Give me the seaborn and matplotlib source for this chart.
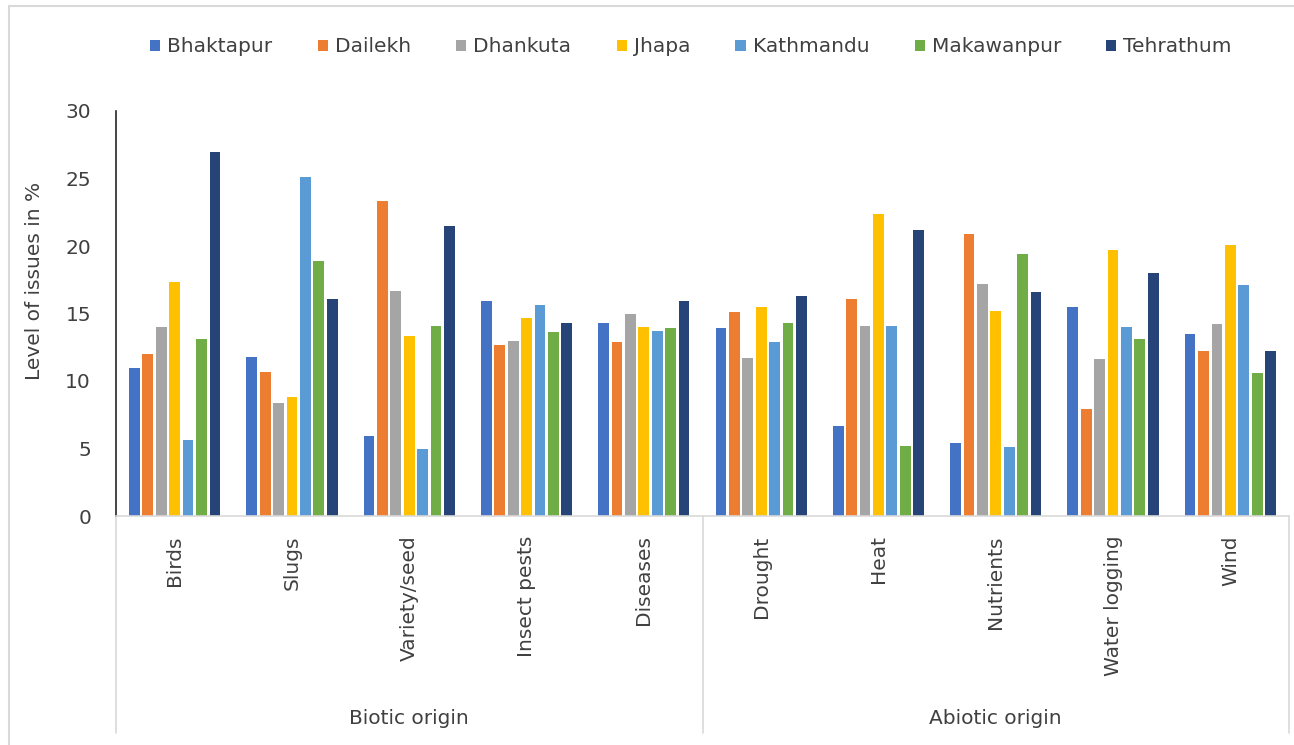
import matplotlib
matplotlib.use("Agg")
import matplotlib.pyplot as plt
import matplotlib.transforms as mtransforms
from matplotlib.lines import Line2D
import seaborn as sns
import pandas as pd

# Issues reported, grouped by origin
issues = ["Birds", "Slugs", "Variety/seed", "Insect pests", "Diseases",
          "Drought", "Heat", "Nutrients", "Water logging", "Wind"]
groups = ["Biotic origin", "Abiotic origin"]
group_sizes = [5, 5]

districts = ["Bhaktapur", "Dailekh", "Dhankuta", "Jhapa",
             "Kathmandu", "Makawanpur", "Tehrathum"]

# Level of issues in % per district, in the order of `issues`
bhaktapur = [11.0, 11.8, 5.9, 15.9, 14.3, 13.9, 6.7, 5.4, 15.5, 13.5]
dailekh = [12.0, 10.7, 23.3, 12.7, 12.9, 15.1, 16.1, 20.9, 7.9, 12.2]
dhankuta = [14.0, 8.4, 16.7, 13.0, 15.0, 11.7, 14.1, 17.2, 11.6, 14.2]
jhapa = [17.3, 8.8, 13.3, 14.7, 14.0, 15.5, 22.4, 15.2, 19.7, 20.1]
kathmandu = [5.6, 25.1, 5.0, 15.6, 13.7, 12.9, 14.1, 5.1, 14.0, 17.1]
makawanpur = [13.1, 18.9, 14.1, 13.6, 13.9, 14.3, 5.2, 19.4, 13.1, 10.6]
tehrathum = [27.0, 16.1, 21.5, 14.3, 15.9, 16.3, 21.2, 16.6, 18.0, 12.2]

series = [bhaktapur, dailekh, dhankuta, jhapa, kathmandu, makawanpur, tehrathum]
colors = ["#4472C4", "#ED7D31", "#A5A5A5", "#FFC000",
          "#5B9BD5", "#70AD47", "#264478"]

df = pd.DataFrame(
    [(iss, d, v) for d, vals in zip(districts, series) for iss, v in zip(issues, vals)],
    columns=["issue", "district", "value"],
)

sns.set_theme(style="white")
plt.rcParams["font.family"] = ["DejaVu Sans"]
text_color = "#404040"
grid_gray = "#D9D9D9"
W, H = 1294, 745

fig = plt.figure(figsize=(W / 100, H / 100), dpi=100)
ax = fig.add_axes([116 / W, 1 - 516 / H, (1289 - 116) / W, (516 - 111) / H])

sns.barplot(data=df, x="issue", y="value", hue="district",
            order=issues, hue_order=districts, palette=colors,
            width=0.8, gap=0.2, linewidth=0, saturation=1, ax=ax)

ax.set_xlim(-0.5, len(issues) - 0.5)
ax.set_ylim(0, 30)
ax.set_yticks(range(0, 31, 5))
ax.set_xlabel("")
ax.set_ylabel("")

for side in ["top", "right"]:
    ax.spines[side].set_visible(False)
ax.spines["left"].set_color("#262626")
ax.spines["left"].set_linewidth(1.2)
ax.spines["bottom"].set_color(grid_gray)
ax.spines["bottom"].set_linewidth(1.2)

ax.tick_params(axis="y", length=0, pad=18, labelsize=14.5, labelcolor=text_color)
ax.tick_params(axis="x", length=0, pad=14, labelsize=14.5, labelcolor=text_color,
               labelrotation=90)

# Multi-level category axis: separators and group names
trans = mtransforms.blended_transform_factory(ax.transData, ax.transAxes)
y_low = (516 - 733) / (516 - 111)
edges = [-0.5]
for n in group_sizes:
    edges.append(edges[-1] + n)
for x in edges:
    ax.add_line(Line2D([x, x], [0, y_low], transform=trans, color=grid_gray,
                       lw=1.2, clip_on=False))
y_grp = (516 - 718) / (516 - 111)
for g, a, b in zip(groups, edges[:-1], edges[1:]):
    ax.text((a + b) / 2, y_grp, g, transform=trans, ha="center", va="center",
            fontsize=14.5, color=text_color)

fig.text(35 / W, 1 - 281 / H, "Level of issues in %", rotation=90,
         ha="center", va="center", fontsize=14.5, color=text_color)

handles, labels = ax.get_legend_handles_labels()
ax.get_legend().remove()
fig.legend(handles, labels, loc="center", bbox_to_anchor=(691 / W, 1 - 47 / H),
           ncol=7, frameon=False, fontsize=14.5, labelcolor=text_color,
           handlelength=0.5, handleheight=0.5, handletextpad=0.35,
           columnspacing=2.25)

# Chart frame edges
fig.add_artist(Line2D([9 / W, 1], [1 - 6 / H, 1 - 6 / H], transform=fig.transFigure,
                      color=grid_gray, lw=1.5))
fig.add_artist(Line2D([9 / W, 9 / W], [0, 1 - 6 / H], transform=fig.transFigure,
                      color=grid_gray, lw=1.5))

fig.savefig("out.png", dpi=100, facecolor="white")
